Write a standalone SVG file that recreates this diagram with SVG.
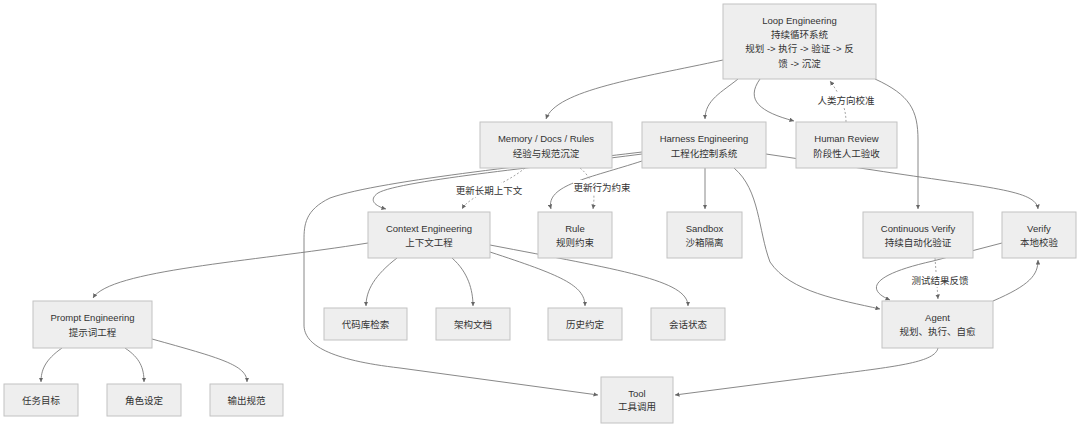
<svg xmlns="http://www.w3.org/2000/svg" width="1080" height="428" viewBox="0 0 1080 428">
<style>
.n rect{fill:#eeeeee;stroke:#c2c2c2;stroke-width:1}
text{font-family:"Liberation Sans","Noto Sans CJK SC",sans-serif;font-size:9.5px;fill:#333;text-anchor:middle}
.e path{fill:none;stroke:#7a7a7a;stroke-width:0.9;marker-end:url(#ah)}
.e path.d{stroke-dasharray:2,2;stroke:#9a9a9a}
.lb{fill:#ffffff}
</style>
<defs>
<marker id="ah" viewBox="0 0 6 6" refX="6" refY="3" markerWidth="5" markerHeight="5" orient="auto">
<path d="M0,0 L6,3 L0,6 z" fill="#666"/>
</marker>
</defs>
<rect width="1080" height="428" fill="#ffffff"/>
<g id="connectors" class="e">
<path d="M723,60 C640,78 556,90 546,119"/>
<path d="M738,79 C722,92 705,100 705,119"/>
<path d="M760,79 C745,100 760,112 794,121"/>
<path class="d" d="M846,122 C846,105 838,92 830,81"/>
<path d="M875,79 C910,95 918,110 918,140 L918,209"/>
<path d="M766,154 L873,170 C990,188 1036,190 1038,209"/>
<path d="M705,168 L705,209"/>
<path d="M734,168 C760,190 758,230 770,262 C790,292 840,300 880,309"/>
<path d="M642,161 C590,178 545,185 551,209"/>
<path class="d" d="M580,168 C595,180 595,195 593,209"/>
<path class="d" d="M525,168 C505,185 470,195 462,209"/>
<path d="M642,154 C560,165 400,180 378,193 C368,200 375,206 386,209"/>
<path d="M642,152 C560,162 380,180 330,198 C305,210 304,225 304,240 L304,325 C304,345 330,360 400,368 L598,395"/>
<path d="M368,243 C250,262 110,270 93,298"/>
<path d="M397,258 C375,275 366,290 366,306"/>
<path d="M452,258 C468,272 473,290 473,306"/>
<path d="M490,252 C560,275 585,285 585,306"/>
<path d="M490,245 C620,270 688,280 688,306"/>
<path d="M62,348 C45,360 41,370 41,382"/>
<path d="M125,348 C140,358 144,368 144,382"/>
<path d="M152,339 C220,358 247,365 247,382"/>
<path d="M938,348 C935,362 900,366 830,375 L675,395"/>
<path d="M993,301 C1030,285 1038,275 1038,260"/>
<path d="M1002,243 L933,261 C870,275 866,290 890,300"/>
<path class="d" d="M935,258 L938,299"/>
</g>
<g id="edge-labels">
<rect class="lb" x="816" y="93" width="60" height="14"/>
<text x="846" y="103.5">人类方向校准</text>
<rect class="lb" x="455" y="183" width="68" height="14"/>
<text x="489" y="193.5">更新长期上下文</text>
<rect class="lb" x="573" y="180" width="58" height="14"/>
<text x="602" y="190.5">更新行为约束</text>
<rect class="lb" x="911" y="273" width="58" height="14"/>
<text x="940" y="283.5">测试结果反馈</text>
</g>
<g id="loop" class="n"><rect x="723" y="4" width="153" height="75"/>
<text x="799.5" y="23.5">Loop Engineering</text><text x="799.5" y="37.5">持续循环系统</text><text x="799.5" y="52">规划 -&gt; 执行 -&gt; 验证 -&gt; 反</text><text x="799.5" y="66.5">馈 -&gt; 沉淀</text></g>
<g id="memory" class="n"><rect x="480" y="122" width="132" height="46"/>
<text x="546" y="141.5">Memory / Docs / Rules</text><text x="546" y="156.5">经验与规范沉淀</text></g>
<g id="harness" class="n"><rect x="642" y="122" width="124" height="46"/>
<text x="704" y="141.5">Harness Engineering</text><text x="704" y="156.5">工程化控制系统</text></g>
<g id="human" class="n"><rect x="796" y="122" width="101" height="46"/>
<text x="846.5" y="141.5">Human Review</text><text x="846.5" y="156.5">阶段性人工验收</text></g>
<g id="context" class="n"><rect x="368" y="212" width="122" height="46"/>
<text x="429" y="231.5">Context Engineering</text><text x="429" y="246">上下文工程</text></g>
<g id="rule" class="n"><rect x="538" y="212" width="74" height="46"/>
<text x="575" y="231.5">Rule</text><text x="575" y="246">规则约束</text></g>
<g id="sandbox" class="n"><rect x="667" y="212" width="75" height="46"/>
<text x="704.5" y="231.5">Sandbox</text><text x="704.5" y="246">沙箱隔离</text></g>
<g id="cverify" class="n"><rect x="863" y="212" width="110" height="46"/>
<text x="918" y="231.5">Continuous Verify</text><text x="918" y="246">持续自动化验证</text></g>
<g id="verify" class="n"><rect x="1002" y="212" width="74" height="46"/>
<text x="1039" y="231.5">Verify</text><text x="1039" y="246">本地校验</text></g>
<g id="prompt" class="n"><rect x="33" y="301" width="119" height="47"/>
<text x="92.5" y="321">Prompt Engineering</text><text x="92.5" y="335.5">提示词工程</text></g>
<g id="agent" class="n"><rect x="882" y="301" width="111" height="47"/>
<text x="937.5" y="320.5">Agent</text><text x="937.5" y="335">规划、执行、自愈</text></g>
<g id="tool" class="n"><rect x="601" y="377" width="72" height="46"/>
<text x="637" y="396.5">Tool</text><text x="637" y="410">工具调用</text></g>
<g id="codesearch" class="n"><rect x="324" y="308" width="83" height="32"/><text x="365.5" y="327.5">代码库检索</text></g>
<g id="archdoc" class="n"><rect x="436" y="308" width="74" height="32"/><text x="473" y="327.5">架构文档</text></g>
<g id="history" class="n"><rect x="548" y="308" width="74" height="32"/><text x="585" y="327.5">历史约定</text></g>
<g id="session" class="n"><rect x="651" y="308" width="74" height="32"/><text x="688" y="327.5">会话状态</text></g>
<g id="task" class="n"><rect x="4" y="384" width="74" height="32"/><text x="41" y="403.5">任务目标</text></g>
<g id="role" class="n"><rect x="107" y="384" width="74" height="32"/><text x="144" y="403.5">角色设定</text></g>
<g id="output" class="n"><rect x="210" y="384" width="73" height="32"/><text x="246.5" y="403.5">输出规范</text></g>
</svg>
